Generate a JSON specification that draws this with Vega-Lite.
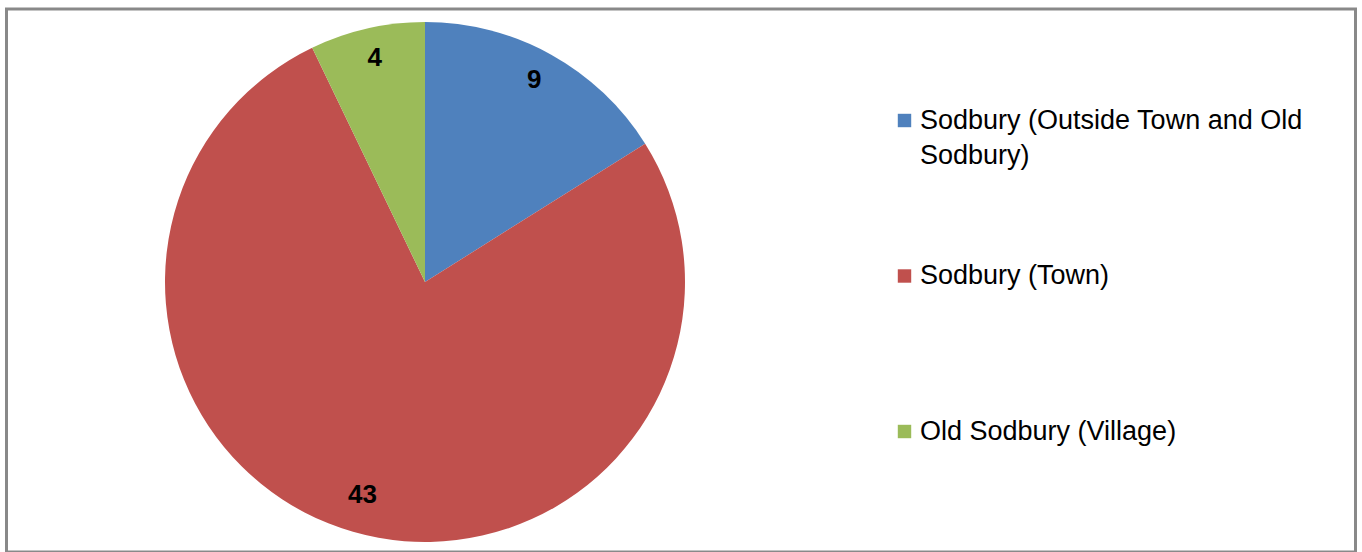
{
  "$schema": "https://vega.github.io/schema/vega-lite/v6.json",
  "width": 1349,
  "height": 543,
  "autosize": {"type": "none"},
  "padding": {"left": 6.5, "top": 9, "right": 6.5, "bottom": 0},
  "background": "white",
  "config": {
    "view": {"stroke": "#898989", "strokeWidth": 3},
    "style": {"guide-label": {"lineHeight": 35}}
  },
  "data": {
    "values": [
      {"area": "Sodbury (Outside Town and Old Sodbury)", "count": 9, "order": 1},
      {"area": "Sodbury (Town)", "count": 43, "order": 2},
      {"area": "Old Sodbury (Village)", "count": 4, "order": 3}
    ]
  },
  "layer": [
    {
      "data": {"values": []},
      "mark": "rule",
      "encoding": {
        "x": {"field": "v", "type": "quantitative", "axis": null},
        "y": {"field": "w", "type": "quantitative", "axis": null}
      }
    },
    {
      "mark": {"type": "arc", "outerRadius": 260, "x": 418.5, "y": 273},
      "encoding": {
        "theta": {"field": "count", "type": "quantitative", "stack": true},
        "order": {"field": "order", "type": "quantitative"},
        "color": {
          "field": "area",
          "type": "nominal",
          "scale": {
            "domain": ["Sodbury (Outside Town and Old Sodbury)", "Sodbury (Town)", "Old Sodbury (Village)"],
            "range": ["#4F81BD", "#C0504D", "#9BBB59"]
          },
          "legend": {
            "orient": "none",
            "legendX": 884.5,
            "legendY": 98,
            "title": null,
            "symbolType": "square",
            "symbolSize": 180,
            "symbolStrokeWidth": 0,
            "labelFontSize": 27,
            "labelFont": "Liberation Sans",
            "labelColor": "black",
            "labelLimit": 0,
            "labelOffset": 2,
            "rowPadding": 92.5,
            "labelExpr": "datum.label == 'Sodbury (Outside Town and Old Sodbury)' ? ['Sodbury (Outside Town and Old', 'Sodbury)'] : [datum.label, '']"
          }
        }
      }
    },
    {
      "mark": {"type": "text", "radius": 226, "x": 418.5, "y": 273, "dy": -4, "fontSize": 26, "fontWeight": "bold", "font": "Liberation Sans", "color": "black"},
      "encoding": {
        "theta": {"field": "count", "type": "quantitative", "stack": true},
        "order": {"field": "order", "type": "quantitative"},
        "text": {"field": "count", "type": "quantitative"}
      }
    }
  ]
}
